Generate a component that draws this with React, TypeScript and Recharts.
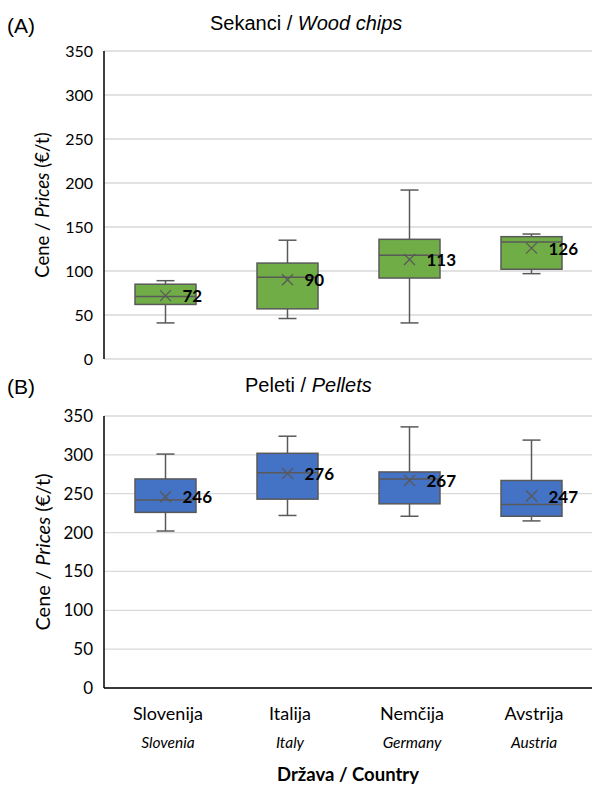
import { ComposedChart, Bar, XAxis, YAxis, CartesianGrid } from 'recharts'

const countries = ['Slovenija', 'Italija', 'Nemčija', 'Avstrija']
const countriesEn = ['Slovenia', 'Italy', 'Germany', 'Austria']
const yTicks = [0, 50, 100, 150, 200, 250, 300, 350]

// Sekanci / Wood chips
const chipsMin = [41, 46, 41, 97]
const chipsQ1 = [62, 57, 92, 102]
const chipsMedian = [71, 93, 118, 133]
const chipsQ3 = [85, 109, 136, 139]
const chipsMax = [89, 135, 192, 142]
const chipsMean = [72, 90, 113, 126]

// Peleti / Pellets
const pelletsMin = [202, 222, 221, 215]
const pelletsQ1 = [226, 243, 237, 221]
const pelletsMedian = [242, 277, 269, 236]
const pelletsQ3 = [269, 302, 278, 267]
const pelletsMax = [301, 324, 336, 319]
const pelletsMean = [246, 276, 267, 247]

const build = (mn: number[], q1: number[], md: number[], q3: number[], mx: number[], mean: number[]) =>
  countries.map((c, i) => ({
    country: c,
    min: mn[i], q1: q1[i], median: md[i], q3: q3[i], max: mx[i], mean: mean[i],
    range: [mn[i], mx[i]],
  }))

const chipsData = build(chipsMin, chipsQ1, chipsMedian, chipsQ3, chipsMax, chipsMean)
const pelletsData = build(pelletsMin, pelletsQ1, pelletsMedian, pelletsQ3, pelletsMax, pelletsMean)

const STROKE = '#595959'
const GRID = '#d9d9d9'
const FONT = 'Lato, sans-serif'

function BoxShape(props: any) {
  const { x, y, width, height, payload, fill } = props
  const top = Math.min(y, y + height)
  const h = Math.abs(height)
  const { min, max, q1, median, q3, mean } = payload
  const toY = (v: number) => top + (h * (max - v)) / (max - min)
  const cx = x + width / 2
  const cap = 9
  const m = 5.5
  const my = toY(mean)
  return (
    <g>
      <line x1={cx} x2={cx} y1={toY(max)} y2={toY(min)} stroke={STROKE} strokeWidth={1.5} />
      <line x1={cx - cap} x2={cx + cap} y1={toY(max)} y2={toY(max)} stroke={STROKE} strokeWidth={1.5} />
      <line x1={cx - cap} x2={cx + cap} y1={toY(min)} y2={toY(min)} stroke={STROKE} strokeWidth={1.5} />
      <rect x={x} y={toY(q3)} width={width} height={toY(q1) - toY(q3)} fill={fill} stroke={STROKE} strokeWidth={1.5} />
      <line x1={x} x2={x + width} y1={toY(median)} y2={toY(median)} stroke={STROKE} strokeWidth={1.5} />
      <line x1={cx - m} x2={cx + m} y1={my - m} y2={my + m} stroke={STROKE} strokeWidth={1.3} />
      <line x1={cx - m} x2={cx + m} y1={my + m} y2={my - m} stroke={STROKE} strokeWidth={1.3} />
      <text x={cx + 17} y={my} dominantBaseline="central" fontFamily={FONT} fontWeight={700} fontSize={17} fill="#000">
        {mean}
      </text>
    </g>
  )
}

function YLabel({ viewBox, fontSize }: any) {
  const cx = viewBox.x + 42
  const cy = viewBox.y + viewBox.height / 2
  return (
    <text x={cx} y={cy} transform={`rotate(-90, ${cx}, ${cy})`} textAnchor="middle" dominantBaseline="central"
      fontFamily={FONT} fontSize={fontSize} fill="#000">
      <tspan>Cene / </tspan>
      <tspan fontStyle="italic">Prices</tspan>
      <tspan> (€/t)</tspan>
    </text>
  )
}

function CountryTick({ x, y, payload }: any) {
  const i = countries.indexOf(payload.value)
  return (
    <g transform={`translate(${x + 3},${y})`}>
      <text y={25} textAnchor="middle" dominantBaseline="central" fontFamily={FONT} fontSize={18} fill="#000">
        {payload.value}
      </text>
      <text y={54} textAnchor="middle" dominantBaseline="central" fontFamily={FONT} fontStyle="italic" fontSize={15.5} fill="#000">
        {countriesEn[i]}
      </text>
    </g>
  )
}

export default function App() {
  return (
    <div style={{ position: 'relative', width: 600, height: 795, background: '#fff' }}>
      <style>{'body{margin:0}'}</style>
      <svg width={600} height={795} style={{ position: 'absolute', left: 0, top: 0, pointerEvents: 'none', zIndex: 2 }}>
        <text x={7} y={33} fontFamily="'Liberation Sans', Arial, sans-serif" fontSize={21} fill="#000">(A)</text>
        <text x={210} y={30} fontFamily="'Liberation Sans', Arial, sans-serif" fontSize={20} fill="#000">
          Sekanci / <tspan fontStyle="italic">Wood chips</tspan>
        </text>
        <text x={7} y={394} fontFamily="'Liberation Sans', Arial, sans-serif" fontSize={21} fill="#000">(B)</text>
        <text x={245} y={392} fontFamily="'Liberation Sans', Arial, sans-serif" fontSize={20} fill="#000">
          Peleti / <tspan fontStyle="italic">Pellets</tspan>
        </text>
      </svg>

      <div style={{ position: 'absolute', left: 0, top: 0 }}>
        <ComposedChart width={600} height={380} data={chipsData} margin={{ top: 51, right: 8, bottom: 21, left: 0 }}
          barCategoryGap="50%">
          <CartesianGrid horizontal vertical={false} stroke={GRID} strokeWidth={1.3} />
          <XAxis dataKey="country" hide />
          <YAxis domain={[0, 350]} ticks={yTicks} width={104} tickLine={false} tickSize={0} tickMargin={11}
            axisLine={{ stroke: '#000', strokeWidth: 1.5 }} interval={0}
            tick={{ fill: '#000', fontSize: 16, fontFamily: FONT }}
            label={(p: any) => <YLabel {...p} fontSize={18.5} />} />
          <Bar dataKey="range" fill="#70ad47" barSize={61} isAnimationActive={false} shape={<BoxShape />} />
        </ComposedChart>
      </div>

      <div style={{ position: 'absolute', left: 0, top: 370 }}>
        <ComposedChart width={600} height={425} data={pelletsData} margin={{ top: 46, right: 8, bottom: 7, left: 0 }}
          barCategoryGap="50%">
          <CartesianGrid horizontal vertical={false} stroke={GRID} strokeWidth={1.3} />
          <XAxis dataKey="country" height={100} tickLine={false} tickSize={0} tickMargin={0} interval={0}
            axisLine={{ stroke: '#000', strokeWidth: 1.5 }} tick={<CountryTick />}
            label={{ value: 'Država / Country', position: 'insideBottom', offset: 7, fill: '#000',
              fontSize: 18.5, fontWeight: 700, fontFamily: FONT }} />
          <YAxis domain={[0, 350]} ticks={yTicks} width={104} tickLine={false} tickSize={0} tickMargin={11}
            axisLine={{ stroke: '#000', strokeWidth: 1.5 }} interval={0}
            tick={{ fill: '#000', fontSize: 17, fontFamily: FONT }}
            label={(p: any) => <YLabel {...p} fontSize={20} />} />
          <Bar dataKey="range" fill="#4472c4" barSize={61} isAnimationActive={false} shape={<BoxShape />} />
        </ComposedChart>
      </div>
    </div>
  )
}
